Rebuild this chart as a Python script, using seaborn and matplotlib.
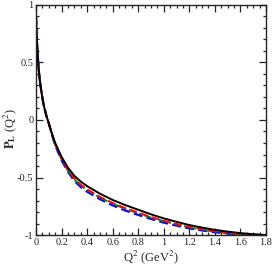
import matplotlib
matplotlib.use("Agg")
from matplotlib import pyplot as plt
from matplotlib.ticker import MultipleLocator, FuncFormatter
import seaborn as sns
import pandas as pd

# values
q2 = [0.0, 0.005, 0.01, 0.02, 0.03, 0.04, 0.05, 0.06, 0.08, 0.1, 0.125, 0.15,
      0.2, 0.25, 0.3, 0.35, 0.4, 0.5, 0.6, 0.7, 0.8, 0.9, 1.0, 1.1, 1.2, 1.3,
      1.4, 1.5, 1.6, 1.7, 1.8]
pl_black = [0.90, 0.74, 0.62, 0.45, 0.34, 0.26, 0.19, 0.13, 0.04, -0.03, -0.12, -0.20,
            -0.32, -0.415, -0.485, -0.535, -0.575, -0.64, -0.695, -0.74, -0.78, -0.82,
            -0.855, -0.885, -0.913, -0.935, -0.955, -0.97, -0.983, -0.993, -1.0]
pl_red = [0.90, 0.74, 0.62, 0.45, 0.34, 0.26, 0.19, 0.13, 0.04, -0.03, -0.125, -0.21,
          -0.335, -0.435, -0.51, -0.562, -0.603, -0.668, -0.722, -0.767, -0.805, -0.843,
          -0.876, -0.904, -0.93, -0.95, -0.967, -0.98, -0.99, -0.997, -1.0]
pl_green = [0.90, 0.74, 0.62, 0.45, 0.34, 0.26, 0.19, 0.13, 0.04, -0.03, -0.127, -0.213,
            -0.34, -0.44, -0.516, -0.568, -0.609, -0.674, -0.728, -0.772, -0.81, -0.848,
            -0.88, -0.908, -0.934, -0.953, -0.97, -0.982, -0.991, -0.998, -1.0]
pl_blue = [0.90, 0.74, 0.62, 0.45, 0.34, 0.26, 0.19, 0.13, 0.04, -0.03, -0.13, -0.22,
           -0.35, -0.45, -0.53, -0.582, -0.623, -0.688, -0.742, -0.787, -0.825, -0.86,
           -0.892, -0.918, -0.942, -0.96, -0.975, -0.986, -0.994, -0.999, -1.0]

df = pd.DataFrame({"q2": q2, "black": pl_black, "red": pl_red,
                   "green": pl_green, "blue": pl_blue})


def short_num(v, pos):
    s = "%g" % round(v, 2)
    return "0" if s == "-0" else s


sns.set_style("ticks")
plt.rcParams['font.family'] = ['Liberation Serif', 'DejaVu Serif']
plt.rcParams['mathtext.fontset'] = 'stix'

fig = plt.figure(figsize=(2.73, 2.73), dpi=100)
ax = fig.add_axes([0.132, 0.139, 0.842, 0.843])

sns.lineplot(data=df, x="q2", y="blue", color="blue", lw=1.6, ax=ax,
             linestyle=(0, (4, 2)))
sns.lineplot(data=df, x="q2", y="green", color="green", lw=1.4, ax=ax,
             linestyle=(0, (4, 1.5, 1, 1.5)))
sns.lineplot(data=df, x="q2", y="red", color="red", lw=1.4, ax=ax,
             linestyle=(0, (4, 2)))
sns.lineplot(data=df, x="q2", y="black", color="black", lw=1.4, ax=ax)

ax.set_xlim(0, 1.8)
ax.set_ylim(-1, 1)
ax.xaxis.set_major_locator(MultipleLocator(0.2))
ax.xaxis.set_minor_locator(MultipleLocator(0.05))
ax.yaxis.set_major_locator(MultipleLocator(0.5))
ax.yaxis.set_minor_locator(MultipleLocator(0.1))
ax.xaxis.set_major_formatter(FuncFormatter(short_num))
ax.yaxis.set_major_formatter(FuncFormatter(short_num))
ax.tick_params(which="both", direction="in", top=True, right=True,
               labelsize=7.5, width=0.9, pad=2)
ax.tick_params(which="major", length=5)
ax.tick_params(which="minor", length=2.5)
for s in ax.spines.values():
    s.set_linewidth(1.0)

ax.set_xlabel(r"Q$^2$ (GeV$^2$)", fontsize=9)
ax.set_ylabel(r"$\mathbf{P_L}$ (Q$^2$)", fontsize=9)
ax.xaxis.set_label_coords(0.5, -0.06)
ax.yaxis.set_label_coords(-0.075, 0.465)

fig.savefig("out.png", dpi=100)
